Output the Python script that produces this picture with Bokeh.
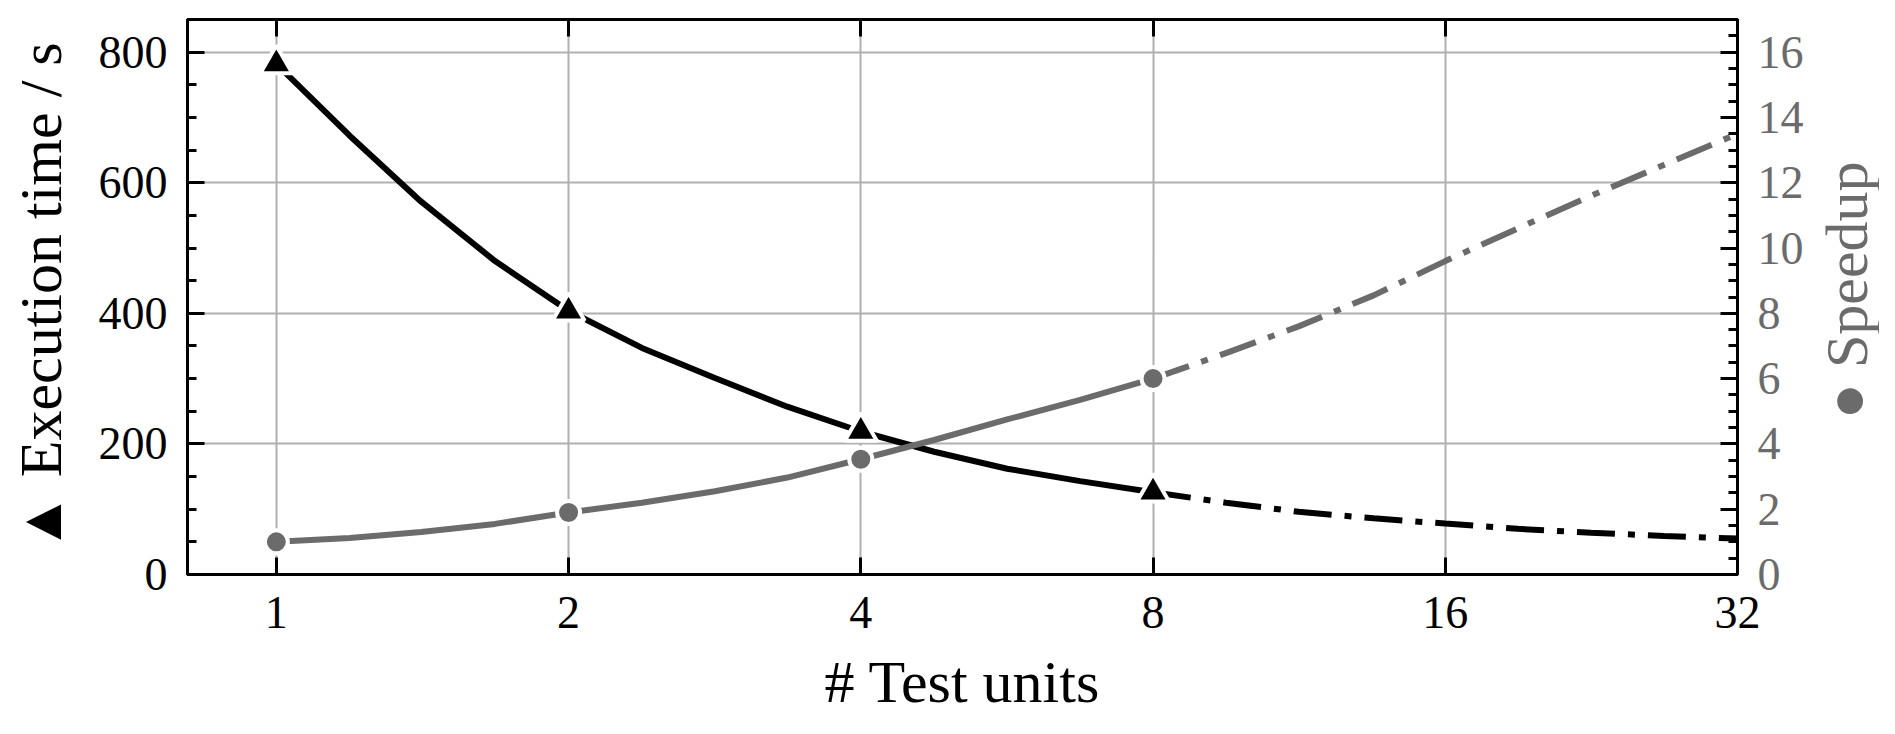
import math

from bokeh.plotting import figure
from bokeh.layouts import row
from bokeh.core.properties import value
from bokeh.models import (Range1d, LinearAxis, LogAxis, FixedTicker,
                          SingleIntervalTicker, CustomLabelingPolicy)
from bokeh.embed import file_html
from bokeh.resources import INLINE

# measured points
units = [1, 2, 4, 8]
exec_time = [782, 403, 219, 126]
speedup = [1.0, 1.9, 3.53, 6.0]

# fitted curves at quarter-octave steps
fit_units = [1, 1.19, 1.41, 1.68, 2, 2.38, 2.83, 3.36, 4, 4.76, 5.66, 6.73,
             8, 9.51, 11.3, 13.5, 16, 19.0, 22.6, 26.9, 32]
fit_time = [782, 672, 571, 480, 404, 347, 301, 257, 219, 188, 162, 143,
            126, 110, 96, 86, 78, 70, 64, 59, 55]
fit_speedup = [1.0, 1.12, 1.3, 1.55, 1.9, 2.2, 2.55, 2.97, 3.53, 4.12, 4.75, 5.35,
               6.0, 6.78, 7.6, 8.55, 9.6, 10.6, 11.6, 12.55, 13.5]
last_measured = 8  # beyond this the fit is extrapolated (dash-dot)

x_ticks = [1, 2, 4, 8, 16, 32]
x_labels = ["1", "2", "4", "8", "16", "32"]

FONT = "Liberation Serif"
GREY = "#6b6b6b"
GRID = "#b0b0b0"
DASHDOT = "38 13 7 13"
LABEL_SIZE = "60px"

TOTAL_W, H = 1879, 718
LEFT, TOP = 187, 19
FRAME_W, FRAME_H = 1550, 555
RIGHT = 72
LABEL_W = TOTAL_W - LEFT - FRAME_W - RIGHT

p = figure(width=LEFT + FRAME_W + RIGHT, height=H, x_axis_type="log",
           x_range=Range1d(0.81, 32), y_range=Range1d(0, 850),
           output_backend="svg", toolbar_location=None)
p.min_border_left = LEFT
p.min_border_right = RIGHT
p.min_border_top = TOP
p.min_border_bottom = H - TOP - FRAME_H
p.background_fill_color = "white"
p.border_fill_color = "white"
p.outline_line_color = "black"
p.outline_line_width = 3

p.extra_y_ranges = {"speed": Range1d(0, 17)}

def style_axis(ax):
    ax.axis_line_color = "black"
    ax.axis_line_width = 3
    ax.major_tick_in = 17
    ax.major_tick_out = 0
    ax.minor_tick_in = 9
    ax.minor_tick_out = 0
    ax.major_tick_line_width = 3
    ax.minor_tick_line_width = 3
    ax.major_tick_line_color = "black"
    ax.minor_tick_line_color = "black"
    ax.major_label_text_font = FONT
    ax.major_label_text_font_size = "46px"
    ax.major_label_text_color = "black"
    ax.axis_label_text_font = FONT
    ax.axis_label_text_font_size = LABEL_SIZE
    ax.axis_label_text_font_style = "normal"
    ax.axis_label_text_color = "black"

# bottom axis
xa = p.below[0]
xa.ticker = FixedTicker(ticks=x_ticks)
xa.major_label_overrides = {t: l for t, l in zip(x_ticks, x_labels)}
style_axis(xa)
xa.major_label_standoff = 22
xa.axis_label = "# Test units"
xa.axis_label_standoff = 18

# top axis, ticks only
top = LogAxis(ticker=FixedTicker(ticks=x_ticks))
style_axis(top)
top.major_label_policy = CustomLabelingPolicy(
    code="for (const i of indices) indices.unset(i); return indices")
top.major_label_text_font_size = "0px"
top.major_label_standoff = 0
p.add_layout(top, "above")

# left axis
ya = p.left[0]
ya.ticker = SingleIntervalTicker(interval=200, num_minor_ticks=4)
style_axis(ya)
ya.major_label_standoff = 20
ya.axis_label = "\u25b2 Execution time / s"
ya.axis_label_standoff = 22

# right axis
ra = LinearAxis(y_range_name="speed",
                ticker=SingleIntervalTicker(interval=2, num_minor_ticks=4))
style_axis(ra)
ra.major_label_standoff = 20
ra.major_label_text_color = GREY
p.add_layout(ra, "right")

p.xgrid.ticker = FixedTicker(ticks=x_ticks)
p.xgrid.grid_line_color = GRID
p.xgrid.grid_line_width = 2
p.ygrid.grid_line_color = GRID
p.ygrid.grid_line_width = 2

cut = fit_units.index(last_measured)

# execution time
p.line(fit_units[:cut + 1], fit_time[:cut + 1], line_color="black", line_width=6)
p.line(fit_units[cut:], fit_time[cut:], line_color="black", line_width=6,
       line_dash=DASHDOT)
p.scatter(units, exec_time, marker="triangle", size=32, fill_color="black",
          line_color="white", line_width=4)

# speedup
p.line(fit_units[:cut + 1], fit_speedup[:cut + 1], line_color=GREY, line_width=6,
       y_range_name="speed")
p.line(fit_units[cut:], fit_speedup[cut:], line_color=GREY, line_width=6,
       line_dash=DASHDOT, y_range_name="speed")
p.scatter(units, speedup, marker="circle", size=23, fill_color=GREY,
          line_color="white", line_width=4, y_range_name="speed")

# narrow strip on the right that carries the speedup title (reads bottom to top)
q = figure(width=LABEL_W, height=H, x_range=Range1d(0, LABEL_W), y_range=Range1d(0, H),
           x_axis_location=None, y_axis_location=None,
           output_backend="svg", toolbar_location=None)
q.min_border = 0
q.outline_line_color = None
q.xgrid.visible = False
q.ygrid.visible = False
q.background_fill_color = "white"
q.border_fill_color = "white"
q.text(x=[LABEL_W - 33], y=[H - TOP - FRAME_H / 2 - 54], text=["\u25cf Speedup"],
       angle=math.pi / 2, text_align="center", text_baseline="alphabetic",
       text_font=value(FONT), text_font_size=LABEL_SIZE, text_color=GREY)

layout = row(p, q, spacing=0)

open("out.html", "w").write(file_html(layout, INLINE))
